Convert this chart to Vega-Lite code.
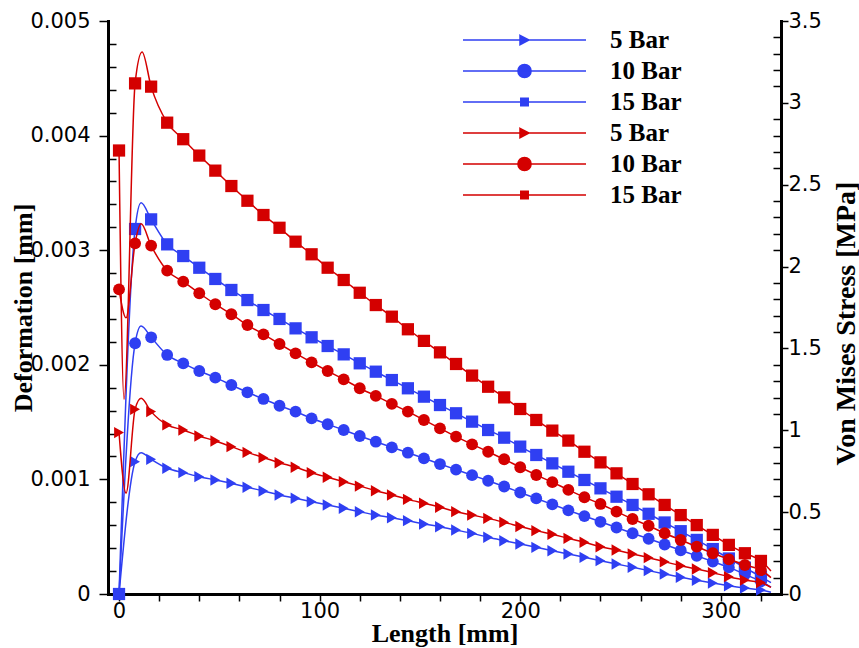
{
  "$schema": "https://vega.github.io/schema/vega-lite/v6.json",
  "width": 673,
  "height": 573,
  "autosize": {"type": "none"},
  "padding": {"left": 108, "top": 21, "right": 78, "bottom": 54},
  "background": "white",
  "config": {
    "view": {"stroke": null},
    "axis": {
      "domainColor": "black", "domainWidth": 3, "domainCap": "square",
      "tickColor": "black", "tickWidth": 1.5,
      "labelFont": "DejaVu Sans", "labelFontSize": 21, "labelColor": "black",
      "titleFont": "Liberation Serif", "titleFontWeight": "bold", "titleFontSize": 26, "titleColor": "black",
      "grid": false, "labelOverlap": false, "labelFlush": false, "labelBound": false
    }
  },
  "data": {"values": [
    {"q":"D","bar":"5 Bar","s":"D 5 Bar","x":0,"v":0,"m":1},
    {"q":"D","bar":"5 Bar","s":"D 5 Bar","x":8,"v":0.001155,"m":1},
    {"q":"D","bar":"5 Bar","s":"D 5 Bar","x":11,"v":0.001233,"m":0},
    {"q":"D","bar":"5 Bar","s":"D 5 Bar","x":16,"v":0.001175,"m":1},
    {"q":"D","bar":"5 Bar","s":"D 5 Bar","x":24,"v":0.001097,"m":1},
    {"q":"D","bar":"5 Bar","s":"D 5 Bar","x":32,"v":0.001059,"m":1},
    {"q":"D","bar":"5 Bar","s":"D 5 Bar","x":40,"v":0.001024,"m":1},
    {"q":"D","bar":"5 Bar","s":"D 5 Bar","x":48,"v":0.000995,"m":1},
    {"q":"D","bar":"5 Bar","s":"D 5 Bar","x":56,"v":0.000966,"m":1},
    {"q":"D","bar":"5 Bar","s":"D 5 Bar","x":64,"v":0.000931,"m":1},
    {"q":"D","bar":"5 Bar","s":"D 5 Bar","x":72,"v":0.000899,"m":1},
    {"q":"D","bar":"5 Bar","s":"D 5 Bar","x":80,"v":0.000864,"m":1},
    {"q":"D","bar":"5 Bar","s":"D 5 Bar","x":88,"v":0.000835,"m":1},
    {"q":"D","bar":"5 Bar","s":"D 5 Bar","x":96,"v":0.000805,"m":1},
    {"q":"D","bar":"5 Bar","s":"D 5 Bar","x":104,"v":0.000777,"m":1},
    {"q":"D","bar":"5 Bar","s":"D 5 Bar","x":112,"v":0.000748,"m":1},
    {"q":"D","bar":"5 Bar","s":"D 5 Bar","x":120,"v":0.000718,"m":1},
    {"q":"D","bar":"5 Bar","s":"D 5 Bar","x":128,"v":0.000689,"m":1},
    {"q":"D","bar":"5 Bar","s":"D 5 Bar","x":136,"v":0.000666,"m":1},
    {"q":"D","bar":"5 Bar","s":"D 5 Bar","x":144,"v":0.00064,"m":1},
    {"q":"D","bar":"5 Bar","s":"D 5 Bar","x":152,"v":0.000611,"m":1},
    {"q":"D","bar":"5 Bar","s":"D 5 Bar","x":160,"v":0.000587,"m":1},
    {"q":"D","bar":"5 Bar","s":"D 5 Bar","x":168,"v":0.000558,"m":1},
    {"q":"D","bar":"5 Bar","s":"D 5 Bar","x":176,"v":0.000529,"m":1},
    {"q":"D","bar":"5 Bar","s":"D 5 Bar","x":184,"v":0.000495,"m":1},
    {"q":"D","bar":"5 Bar","s":"D 5 Bar","x":192,"v":0.000465,"m":1},
    {"q":"D","bar":"5 Bar","s":"D 5 Bar","x":200,"v":0.000436,"m":1},
    {"q":"D","bar":"5 Bar","s":"D 5 Bar","x":208,"v":0.000407,"m":1},
    {"q":"D","bar":"5 Bar","s":"D 5 Bar","x":216,"v":0.000378,"m":1},
    {"q":"D","bar":"5 Bar","s":"D 5 Bar","x":224,"v":0.000349,"m":1},
    {"q":"D","bar":"5 Bar","s":"D 5 Bar","x":232,"v":0.00032,"m":1},
    {"q":"D","bar":"5 Bar","s":"D 5 Bar","x":240,"v":0.000291,"m":1},
    {"q":"D","bar":"5 Bar","s":"D 5 Bar","x":248,"v":0.000262,"m":1},
    {"q":"D","bar":"5 Bar","s":"D 5 Bar","x":256,"v":0.000233,"m":1},
    {"q":"D","bar":"5 Bar","s":"D 5 Bar","x":264,"v":0.000204,"m":1},
    {"q":"D","bar":"5 Bar","s":"D 5 Bar","x":272,"v":0.000175,"m":1},
    {"q":"D","bar":"5 Bar","s":"D 5 Bar","x":280,"v":0.000146,"m":1},
    {"q":"D","bar":"5 Bar","s":"D 5 Bar","x":288,"v":0.00012,"m":1},
    {"q":"D","bar":"5 Bar","s":"D 5 Bar","x":296,"v":0.000095,"m":1},
    {"q":"D","bar":"5 Bar","s":"D 5 Bar","x":304,"v":0.000072,"m":1},
    {"q":"D","bar":"5 Bar","s":"D 5 Bar","x":312,"v":0.000052,"m":1},
    {"q":"D","bar":"5 Bar","s":"D 5 Bar","x":320,"v":0.000035,"m":1},
    {"q":"D","bar":"5 Bar","s":"D 5 Bar","x":325,"v":0.000015,"m":0},

    {"q":"D","bar":"10 Bar","s":"D 10 Bar","x":0,"v":0,"m":1},
    {"q":"D","bar":"10 Bar","s":"D 10 Bar","x":8,"v":0.002188,"m":1},
    {"q":"D","bar":"10 Bar","s":"D 10 Bar","x":11,"v":0.002339,"m":0},
    {"q":"D","bar":"10 Bar","s":"D 10 Bar","x":16,"v":0.00224,"m":1},
    {"q":"D","bar":"10 Bar","s":"D 10 Bar","x":24,"v":0.002086,"m":1},
    {"q":"D","bar":"10 Bar","s":"D 10 Bar","x":32,"v":0.002013,"m":1},
    {"q":"D","bar":"10 Bar","s":"D 10 Bar","x":40,"v":0.001946,"m":1},
    {"q":"D","bar":"10 Bar","s":"D 10 Bar","x":48,"v":0.001888,"m":1},
    {"q":"D","bar":"10 Bar","s":"D 10 Bar","x":56,"v":0.001824,"m":1},
    {"q":"D","bar":"10 Bar","s":"D 10 Bar","x":64,"v":0.00176,"m":1},
    {"q":"D","bar":"10 Bar","s":"D 10 Bar","x":72,"v":0.001702,"m":1},
    {"q":"D","bar":"10 Bar","s":"D 10 Bar","x":80,"v":0.001643,"m":1},
    {"q":"D","bar":"10 Bar","s":"D 10 Bar","x":88,"v":0.001591,"m":1},
    {"q":"D","bar":"10 Bar","s":"D 10 Bar","x":96,"v":0.001533,"m":1},
    {"q":"D","bar":"10 Bar","s":"D 10 Bar","x":104,"v":0.001481,"m":1},
    {"q":"D","bar":"10 Bar","s":"D 10 Bar","x":112,"v":0.001431,"m":1},
    {"q":"D","bar":"10 Bar","s":"D 10 Bar","x":120,"v":0.001379,"m":1},
    {"q":"D","bar":"10 Bar","s":"D 10 Bar","x":128,"v":0.001329,"m":1},
    {"q":"D","bar":"10 Bar","s":"D 10 Bar","x":136,"v":0.00128,"m":1},
    {"q":"D","bar":"10 Bar","s":"D 10 Bar","x":144,"v":0.001233,"m":1},
    {"q":"D","bar":"10 Bar","s":"D 10 Bar","x":152,"v":0.001184,"m":1},
    {"q":"D","bar":"10 Bar","s":"D 10 Bar","x":160,"v":0.001134,"m":1},
    {"q":"D","bar":"10 Bar","s":"D 10 Bar","x":168,"v":0.001085,"m":1},
    {"q":"D","bar":"10 Bar","s":"D 10 Bar","x":176,"v":0.001037,"m":1},
    {"q":"D","bar":"10 Bar","s":"D 10 Bar","x":184,"v":0.000988,"m":1},
    {"q":"D","bar":"10 Bar","s":"D 10 Bar","x":192,"v":0.000938,"m":1},
    {"q":"D","bar":"10 Bar","s":"D 10 Bar","x":200,"v":0.000886,"m":1},
    {"q":"D","bar":"10 Bar","s":"D 10 Bar","x":208,"v":0.000834,"m":1},
    {"q":"D","bar":"10 Bar","s":"D 10 Bar","x":216,"v":0.000782,"m":1},
    {"q":"D","bar":"10 Bar","s":"D 10 Bar","x":224,"v":0.00073,"m":1},
    {"q":"D","bar":"10 Bar","s":"D 10 Bar","x":232,"v":0.00068,"m":1},
    {"q":"D","bar":"10 Bar","s":"D 10 Bar","x":240,"v":0.00063,"m":1},
    {"q":"D","bar":"10 Bar","s":"D 10 Bar","x":248,"v":0.00058,"m":1},
    {"q":"D","bar":"10 Bar","s":"D 10 Bar","x":256,"v":0.00053,"m":1},
    {"q":"D","bar":"10 Bar","s":"D 10 Bar","x":264,"v":0.000482,"m":1},
    {"q":"D","bar":"10 Bar","s":"D 10 Bar","x":272,"v":0.000432,"m":1},
    {"q":"D","bar":"10 Bar","s":"D 10 Bar","x":280,"v":0.000382,"m":1},
    {"q":"D","bar":"10 Bar","s":"D 10 Bar","x":288,"v":0.000333,"m":1},
    {"q":"D","bar":"10 Bar","s":"D 10 Bar","x":296,"v":0.000283,"m":1},
    {"q":"D","bar":"10 Bar","s":"D 10 Bar","x":304,"v":0.000232,"m":1},
    {"q":"D","bar":"10 Bar","s":"D 10 Bar","x":312,"v":0.000172,"m":1},
    {"q":"D","bar":"10 Bar","s":"D 10 Bar","x":320,"v":0.00011,"m":1},
    {"q":"D","bar":"10 Bar","s":"D 10 Bar","x":325,"v":0.00006,"m":0},

    {"q":"D","bar":"15 Bar","s":"D 15 Bar","x":0,"v":0,"m":1},
    {"q":"D","bar":"15 Bar","s":"D 15 Bar","x":8,"v":0.003185,"m":1},
    {"q":"D","bar":"15 Bar","s":"D 15 Bar","x":11,"v":0.003415,"m":0},
    {"q":"D","bar":"15 Bar","s":"D 15 Bar","x":16,"v":0.003269,"m":1},
    {"q":"D","bar":"15 Bar","s":"D 15 Bar","x":24,"v":0.003051,"m":1},
    {"q":"D","bar":"15 Bar","s":"D 15 Bar","x":32,"v":0.002949,"m":1},
    {"q":"D","bar":"15 Bar","s":"D 15 Bar","x":40,"v":0.002847,"m":1},
    {"q":"D","bar":"15 Bar","s":"D 15 Bar","x":48,"v":0.002749,"m":1},
    {"q":"D","bar":"15 Bar","s":"D 15 Bar","x":56,"v":0.002653,"m":1},
    {"q":"D","bar":"15 Bar","s":"D 15 Bar","x":64,"v":0.002565,"m":1},
    {"q":"D","bar":"15 Bar","s":"D 15 Bar","x":72,"v":0.002478,"m":1},
    {"q":"D","bar":"15 Bar","s":"D 15 Bar","x":80,"v":0.0024,"m":1},
    {"q":"D","bar":"15 Bar","s":"D 15 Bar","x":88,"v":0.002318,"m":1},
    {"q":"D","bar":"15 Bar","s":"D 15 Bar","x":96,"v":0.00224,"m":1},
    {"q":"D","bar":"15 Bar","s":"D 15 Bar","x":104,"v":0.002164,"m":1},
    {"q":"D","bar":"15 Bar","s":"D 15 Bar","x":112,"v":0.002091,"m":1},
    {"q":"D","bar":"15 Bar","s":"D 15 Bar","x":120,"v":0.002013,"m":1},
    {"q":"D","bar":"15 Bar","s":"D 15 Bar","x":128,"v":0.00194,"m":1},
    {"q":"D","bar":"15 Bar","s":"D 15 Bar","x":136,"v":0.001867,"m":1},
    {"q":"D","bar":"15 Bar","s":"D 15 Bar","x":144,"v":0.001795,"m":1},
    {"q":"D","bar":"15 Bar","s":"D 15 Bar","x":152,"v":0.001722,"m":1},
    {"q":"D","bar":"15 Bar","s":"D 15 Bar","x":160,"v":0.001649,"m":1},
    {"q":"D","bar":"15 Bar","s":"D 15 Bar","x":168,"v":0.001577,"m":1},
    {"q":"D","bar":"15 Bar","s":"D 15 Bar","x":176,"v":0.001504,"m":1},
    {"q":"D","bar":"15 Bar","s":"D 15 Bar","x":184,"v":0.001431,"m":1},
    {"q":"D","bar":"15 Bar","s":"D 15 Bar","x":192,"v":0.001364,"m":1},
    {"q":"D","bar":"15 Bar","s":"D 15 Bar","x":200,"v":0.001286,"m":1},
    {"q":"D","bar":"15 Bar","s":"D 15 Bar","x":208,"v":0.001213,"m":1},
    {"q":"D","bar":"15 Bar","s":"D 15 Bar","x":216,"v":0.00114,"m":1},
    {"q":"D","bar":"15 Bar","s":"D 15 Bar","x":224,"v":0.001067,"m":1},
    {"q":"D","bar":"15 Bar","s":"D 15 Bar","x":232,"v":0.000995,"m":1},
    {"q":"D","bar":"15 Bar","s":"D 15 Bar","x":240,"v":0.000922,"m":1},
    {"q":"D","bar":"15 Bar","s":"D 15 Bar","x":248,"v":0.000849,"m":1},
    {"q":"D","bar":"15 Bar","s":"D 15 Bar","x":256,"v":0.000777,"m":1},
    {"q":"D","bar":"15 Bar","s":"D 15 Bar","x":264,"v":0.0007,"m":1},
    {"q":"D","bar":"15 Bar","s":"D 15 Bar","x":272,"v":0.000624,"m":1},
    {"q":"D","bar":"15 Bar","s":"D 15 Bar","x":280,"v":0.000548,"m":1},
    {"q":"D","bar":"15 Bar","s":"D 15 Bar","x":288,"v":0.000472,"m":1},
    {"q":"D","bar":"15 Bar","s":"D 15 Bar","x":296,"v":0.000392,"m":1},
    {"q":"D","bar":"15 Bar","s":"D 15 Bar","x":304,"v":0.00031,"m":1},
    {"q":"D","bar":"15 Bar","s":"D 15 Bar","x":312,"v":0.00023,"m":1},
    {"q":"D","bar":"15 Bar","s":"D 15 Bar","x":320,"v":0.00015,"m":1},
    {"q":"D","bar":"15 Bar","s":"D 15 Bar","x":325,"v":0.0001,"m":0},

    {"q":"S","bar":"5 Bar","s":"S 5 Bar","x":0,"v":0.986,"m":1},
    {"q":"S","bar":"5 Bar","s":"S 5 Bar","x":3.5,"v":0.616,"m":0},
    {"q":"S","bar":"5 Bar","s":"S 5 Bar","x":8,"v":1.128,"m":1},
    {"q":"S","bar":"5 Bar","s":"S 5 Bar","x":11,"v":1.195,"m":0},
    {"q":"S","bar":"5 Bar","s":"S 5 Bar","x":16,"v":1.114,"m":1},
    {"q":"S","bar":"5 Bar","s":"S 5 Bar","x":24,"v":1.033,"m":1},
    {"q":"S","bar":"5 Bar","s":"S 5 Bar","x":32,"v":1.002,"m":1},
    {"q":"S","bar":"5 Bar","s":"S 5 Bar","x":40,"v":0.965,"m":1},
    {"q":"S","bar":"5 Bar","s":"S 5 Bar","x":48,"v":0.935,"m":1},
    {"q":"S","bar":"5 Bar","s":"S 5 Bar","x":56,"v":0.9,"m":1},
    {"q":"S","bar":"5 Bar","s":"S 5 Bar","x":64,"v":0.865,"m":1},
    {"q":"S","bar":"5 Bar","s":"S 5 Bar","x":72,"v":0.833,"m":1},
    {"q":"S","bar":"5 Bar","s":"S 5 Bar","x":80,"v":0.802,"m":1},
    {"q":"S","bar":"5 Bar","s":"S 5 Bar","x":88,"v":0.774,"m":1},
    {"q":"S","bar":"5 Bar","s":"S 5 Bar","x":96,"v":0.741,"m":1},
    {"q":"S","bar":"5 Bar","s":"S 5 Bar","x":104,"v":0.713,"m":1},
    {"q":"S","bar":"5 Bar","s":"S 5 Bar","x":112,"v":0.686,"m":1},
    {"q":"S","bar":"5 Bar","s":"S 5 Bar","x":120,"v":0.659,"m":1},
    {"q":"S","bar":"5 Bar","s":"S 5 Bar","x":128,"v":0.631,"m":1},
    {"q":"S","bar":"5 Bar","s":"S 5 Bar","x":136,"v":0.605,"m":1},
    {"q":"S","bar":"5 Bar","s":"S 5 Bar","x":144,"v":0.578,"m":1},
    {"q":"S","bar":"5 Bar","s":"S 5 Bar","x":152,"v":0.554,"m":1},
    {"q":"S","bar":"5 Bar","s":"S 5 Bar","x":160,"v":0.53,"m":1},
    {"q":"S","bar":"5 Bar","s":"S 5 Bar","x":168,"v":0.503,"m":1},
    {"q":"S","bar":"5 Bar","s":"S 5 Bar","x":176,"v":0.482,"m":1},
    {"q":"S","bar":"5 Bar","s":"S 5 Bar","x":184,"v":0.462,"m":1},
    {"q":"S","bar":"5 Bar","s":"S 5 Bar","x":192,"v":0.438,"m":1},
    {"q":"S","bar":"5 Bar","s":"S 5 Bar","x":200,"v":0.412,"m":1},
    {"q":"S","bar":"5 Bar","s":"S 5 Bar","x":208,"v":0.387,"m":1},
    {"q":"S","bar":"5 Bar","s":"S 5 Bar","x":216,"v":0.365,"m":1},
    {"q":"S","bar":"5 Bar","s":"S 5 Bar","x":224,"v":0.34,"m":1},
    {"q":"S","bar":"5 Bar","s":"S 5 Bar","x":232,"v":0.316,"m":1},
    {"q":"S","bar":"5 Bar","s":"S 5 Bar","x":240,"v":0.289,"m":1},
    {"q":"S","bar":"5 Bar","s":"S 5 Bar","x":248,"v":0.269,"m":1},
    {"q":"S","bar":"5 Bar","s":"S 5 Bar","x":256,"v":0.244,"m":1},
    {"q":"S","bar":"5 Bar","s":"S 5 Bar","x":264,"v":0.222,"m":1},
    {"q":"S","bar":"5 Bar","s":"S 5 Bar","x":272,"v":0.197,"m":1},
    {"q":"S","bar":"5 Bar","s":"S 5 Bar","x":280,"v":0.173,"m":1},
    {"q":"S","bar":"5 Bar","s":"S 5 Bar","x":288,"v":0.153,"m":1},
    {"q":"S","bar":"5 Bar","s":"S 5 Bar","x":296,"v":0.13,"m":1},
    {"q":"S","bar":"5 Bar","s":"S 5 Bar","x":304,"v":0.106,"m":1},
    {"q":"S","bar":"5 Bar","s":"S 5 Bar","x":312,"v":0.085,"m":1},
    {"q":"S","bar":"5 Bar","s":"S 5 Bar","x":320,"v":0.07,"m":1},
    {"q":"S","bar":"5 Bar","s":"S 5 Bar","x":325,"v":0.04,"m":0},

    {"q":"S","bar":"10 Bar","s":"S 10 Bar","x":0,"v":1.861,"m":1},
    {"q":"S","bar":"10 Bar","s":"S 10 Bar","x":3.5,"v":1.687,"m":0},
    {"q":"S","bar":"10 Bar","s":"S 10 Bar","x":8,"v":2.142,"m":1},
    {"q":"S","bar":"10 Bar","s":"S 10 Bar","x":11,"v":2.261,"m":0},
    {"q":"S","bar":"10 Bar","s":"S 10 Bar","x":16,"v":2.128,"m":1},
    {"q":"S","bar":"10 Bar","s":"S 10 Bar","x":24,"v":1.975,"m":1},
    {"q":"S","bar":"10 Bar","s":"S 10 Bar","x":32,"v":1.908,"m":1},
    {"q":"S","bar":"10 Bar","s":"S 10 Bar","x":40,"v":1.837,"m":1},
    {"q":"S","bar":"10 Bar","s":"S 10 Bar","x":48,"v":1.77,"m":1},
    {"q":"S","bar":"10 Bar","s":"S 10 Bar","x":56,"v":1.709,"m":1},
    {"q":"S","bar":"10 Bar","s":"S 10 Bar","x":64,"v":1.643,"m":1},
    {"q":"S","bar":"10 Bar","s":"S 10 Bar","x":72,"v":1.586,"m":1},
    {"q":"S","bar":"10 Bar","s":"S 10 Bar","x":80,"v":1.527,"m":1},
    {"q":"S","bar":"10 Bar","s":"S 10 Bar","x":88,"v":1.47,"m":1},
    {"q":"S","bar":"10 Bar","s":"S 10 Bar","x":96,"v":1.415,"m":1},
    {"q":"S","bar":"10 Bar","s":"S 10 Bar","x":104,"v":1.362,"m":1},
    {"q":"S","bar":"10 Bar","s":"S 10 Bar","x":112,"v":1.311,"m":1},
    {"q":"S","bar":"10 Bar","s":"S 10 Bar","x":120,"v":1.257,"m":1},
    {"q":"S","bar":"10 Bar","s":"S 10 Bar","x":128,"v":1.21,"m":1},
    {"q":"S","bar":"10 Bar","s":"S 10 Bar","x":136,"v":1.161,"m":1},
    {"q":"S","bar":"10 Bar","s":"S 10 Bar","x":144,"v":1.114,"m":1},
    {"q":"S","bar":"10 Bar","s":"S 10 Bar","x":152,"v":1.063,"m":1},
    {"q":"S","bar":"10 Bar","s":"S 10 Bar","x":160,"v":1.012,"m":1},
    {"q":"S","bar":"10 Bar","s":"S 10 Bar","x":168,"v":0.961,"m":1},
    {"q":"S","bar":"10 Bar","s":"S 10 Bar","x":176,"v":0.914,"m":1},
    {"q":"S","bar":"10 Bar","s":"S 10 Bar","x":184,"v":0.869,"m":1},
    {"q":"S","bar":"10 Bar","s":"S 10 Bar","x":192,"v":0.823,"m":1},
    {"q":"S","bar":"10 Bar","s":"S 10 Bar","x":200,"v":0.774,"m":1},
    {"q":"S","bar":"10 Bar","s":"S 10 Bar","x":208,"v":0.727,"m":1},
    {"q":"S","bar":"10 Bar","s":"S 10 Bar","x":216,"v":0.683,"m":1},
    {"q":"S","bar":"10 Bar","s":"S 10 Bar","x":224,"v":0.636,"m":1},
    {"q":"S","bar":"10 Bar","s":"S 10 Bar","x":232,"v":0.591,"m":1},
    {"q":"S","bar":"10 Bar","s":"S 10 Bar","x":240,"v":0.55,"m":1},
    {"q":"S","bar":"10 Bar","s":"S 10 Bar","x":248,"v":0.503,"m":1},
    {"q":"S","bar":"10 Bar","s":"S 10 Bar","x":256,"v":0.458,"m":1},
    {"q":"S","bar":"10 Bar","s":"S 10 Bar","x":264,"v":0.417,"m":1},
    {"q":"S","bar":"10 Bar","s":"S 10 Bar","x":272,"v":0.371,"m":1},
    {"q":"S","bar":"10 Bar","s":"S 10 Bar","x":280,"v":0.33,"m":1},
    {"q":"S","bar":"10 Bar","s":"S 10 Bar","x":288,"v":0.289,"m":1},
    {"q":"S","bar":"10 Bar","s":"S 10 Bar","x":296,"v":0.249,"m":1},
    {"q":"S","bar":"10 Bar","s":"S 10 Bar","x":304,"v":0.212,"m":1},
    {"q":"S","bar":"10 Bar","s":"S 10 Bar","x":312,"v":0.177,"m":1},
    {"q":"S","bar":"10 Bar","s":"S 10 Bar","x":320,"v":0.146,"m":1},
    {"q":"S","bar":"10 Bar","s":"S 10 Bar","x":325,"v":0.1,"m":0},

    {"q":"S","bar":"15 Bar","s":"S 15 Bar","x":0,"v":2.709,"m":1},
    {"q":"S","bar":"15 Bar","s":"S 15 Bar","x":2.5,"v":1.19,"m":0},
    {"q":"S","bar":"15 Bar","s":"S 15 Bar","x":8,"v":3.119,"m":1},
    {"q":"S","bar":"15 Bar","s":"S 15 Bar","x":11.5,"v":3.311,"m":0},
    {"q":"S","bar":"15 Bar","s":"S 15 Bar","x":16,"v":3.099,"m":1},
    {"q":"S","bar":"15 Bar","s":"S 15 Bar","x":24,"v":2.879,"m":1},
    {"q":"S","bar":"15 Bar","s":"S 15 Bar","x":32,"v":2.778,"m":1},
    {"q":"S","bar":"15 Bar","s":"S 15 Bar","x":40,"v":2.678,"m":1},
    {"q":"S","bar":"15 Bar","s":"S 15 Bar","x":48,"v":2.586,"m":1},
    {"q":"S","bar":"15 Bar","s":"S 15 Bar","x":56,"v":2.492,"m":1},
    {"q":"S","bar":"15 Bar","s":"S 15 Bar","x":64,"v":2.402,"m":1},
    {"q":"S","bar":"15 Bar","s":"S 15 Bar","x":72,"v":2.315,"m":1},
    {"q":"S","bar":"15 Bar","s":"S 15 Bar","x":80,"v":2.237,"m":1},
    {"q":"S","bar":"15 Bar","s":"S 15 Bar","x":88,"v":2.152,"m":1},
    {"q":"S","bar":"15 Bar","s":"S 15 Bar","x":96,"v":2.075,"m":1},
    {"q":"S","bar":"15 Bar","s":"S 15 Bar","x":104,"v":1.993,"m":1},
    {"q":"S","bar":"15 Bar","s":"S 15 Bar","x":112,"v":1.918,"m":1},
    {"q":"S","bar":"15 Bar","s":"S 15 Bar","x":120,"v":1.84,"m":1},
    {"q":"S","bar":"15 Bar","s":"S 15 Bar","x":128,"v":1.765,"m":1},
    {"q":"S","bar":"15 Bar","s":"S 15 Bar","x":136,"v":1.694,"m":1},
    {"q":"S","bar":"15 Bar","s":"S 15 Bar","x":144,"v":1.617,"m":1},
    {"q":"S","bar":"15 Bar","s":"S 15 Bar","x":152,"v":1.546,"m":1},
    {"q":"S","bar":"15 Bar","s":"S 15 Bar","x":160,"v":1.476,"m":1},
    {"q":"S","bar":"15 Bar","s":"S 15 Bar","x":168,"v":1.405,"m":1},
    {"q":"S","bar":"15 Bar","s":"S 15 Bar","x":176,"v":1.334,"m":1},
    {"q":"S","bar":"15 Bar","s":"S 15 Bar","x":184,"v":1.266,"m":1},
    {"q":"S","bar":"15 Bar","s":"S 15 Bar","x":192,"v":1.201,"m":1},
    {"q":"S","bar":"15 Bar","s":"S 15 Bar","x":200,"v":1.13,"m":1},
    {"q":"S","bar":"15 Bar","s":"S 15 Bar","x":208,"v":1.063,"m":1},
    {"q":"S","bar":"15 Bar","s":"S 15 Bar","x":216,"v":0.998,"m":1},
    {"q":"S","bar":"15 Bar","s":"S 15 Bar","x":224,"v":0.937,"m":1},
    {"q":"S","bar":"15 Bar","s":"S 15 Bar","x":232,"v":0.869,"m":1},
    {"q":"S","bar":"15 Bar","s":"S 15 Bar","x":240,"v":0.804,"m":1},
    {"q":"S","bar":"15 Bar","s":"S 15 Bar","x":248,"v":0.737,"m":1},
    {"q":"S","bar":"15 Bar","s":"S 15 Bar","x":256,"v":0.672,"m":1},
    {"q":"S","bar":"15 Bar","s":"S 15 Bar","x":264,"v":0.609,"m":1},
    {"q":"S","bar":"15 Bar","s":"S 15 Bar","x":272,"v":0.544,"m":1},
    {"q":"S","bar":"15 Bar","s":"S 15 Bar","x":280,"v":0.482,"m":1},
    {"q":"S","bar":"15 Bar","s":"S 15 Bar","x":288,"v":0.421,"m":1},
    {"q":"S","bar":"15 Bar","s":"S 15 Bar","x":296,"v":0.361,"m":1},
    {"q":"S","bar":"15 Bar","s":"S 15 Bar","x":304,"v":0.3,"m":1},
    {"q":"S","bar":"15 Bar","s":"S 15 Bar","x":312,"v":0.249,"m":1},
    {"q":"S","bar":"15 Bar","s":"S 15 Bar","x":320,"v":0.202,"m":1},
    {"q":"S","bar":"15 Bar","s":"S 15 Bar","x":325,"v":0.14,"m":0}
  ]},
  "encoding": {
    "x": {
      "field": "x", "type": "quantitative",
      "scale": {"domain": [-5.5, 330], "nice": false, "zero": false},
      "axis": {
        "title": "Length [mm]",
        "values": [0,20,40,60,80,100,120,140,160,180,200,220,240,260,280,300,320],
        "format": "d",
        "labelExpr": "datum.value % 100 == 0 ? datum.label : ''",
        "tickSize": 7,
        "labelPadding": -1,
        "titlePadding": -1
      }
    },
    "color": {
      "field": "s", "type": "nominal",
      "scale": {
        "domain": ["D 5 Bar","D 10 Bar","D 15 Bar","S 5 Bar","S 10 Bar","S 15 Bar"],
        "range": ["#2f3ff2","#2f3ff2","#2f3ff2","#d40000","#d40000","#d40000"]
      },
      "legend": {
        "orient": "none", "legendX": 403.5, "legendY": 6,
        "title": null, "padding": 0, "rowPadding": 5,
        "symbolSize": 576, "symbolStrokeWidth": 1.5,
        "labelFont": "Liberation Serif", "labelFontWeight": "bold", "labelFontSize": 25, "labelColor": "black",
        "labelOffset": 72.5,
        "labelExpr": "slice(datum.label, 2)",
        "encode": {
          "symbols": {
            "update": {
              "shape": {"signal": "indexof(datum.value, ' 5 ') >= 0 ? 'M-5.125,0L5.125,0M-0.375,-0.39L0.375,0L-0.375,0.39Z' : (indexof(datum.value, ' 10 ') >= 0 ? 'M-5.125,0L5.125,0M-0.55,0A0.55,0.55,0,1,0,0.55,0A0.55,0.55,0,1,0,-0.55,0Z' : 'M-5.125,0L5.125,0M-0.31,-0.31L0.31,-0.31L0.31,0.31L-0.31,0.31Z')"},
              "fill": {"scale": "color", "field": "value"},
              "stroke": {"scale": "color", "field": "value"},
              "strokeWidth": {"value": 1.5},
              "opacity": {"value": 1},
              "fillOpacity": {"value": 1}
            }
          }
        }
      }
    }
  },
  "layer": [
    {
      "transform": [{"filter": "datum.q == 'D'"}],
      "encoding": {
        "y": {
          "field": "v", "type": "quantitative",
          "scale": {"domain": [0, 0.005], "nice": false},
          "axis": {
            "orient": "left",
            "title": "Deformation [mm]",
            "values": [0,0.0002,0.0004,0.0006,0.0008,0.001,0.0012,0.0014,0.0016,0.0018,0.002,0.0022,0.0024,0.0026,0.0028,0.003,0.0032,0.0034,0.0036,0.0038,0.004,0.0042,0.0044,0.0046,0.0048,0.005],
            "format": ".3~f",
            "labelExpr": "round(datum.value * 10000) % 10 == 0 ? datum.label : ''",
            "tickSize": {"condition": {"test": "round(datum.value * 10000) % 10 == 0", "value": 9}, "value": -8},
            "labelPadding": 9,
            "titleBaseline": "middle",
            "titleX": -85
          }
        }
      },
      "layer": [
        {"mark": {"type": "line", "strokeWidth": 1.5, "interpolate": "monotone"}},
        {
          "transform": [{"filter": "datum.m == 1"}],
          "mark": {"type": "point", "filled": true, "opacity": 1, "strokeWidth": 0},
          "encoding": {
            "shape": {"field": "bar", "type": "nominal", "scale": {"domain": ["5 Bar","10 Bar","15 Bar"], "range": ["triangle-right","circle","square"]}, "legend": null},
            "size": {"field": "bar", "type": "ordinal", "scale": {"domain": ["5 Bar","10 Bar","15 Bar"], "range": [130, 150, 70]}, "legend": null}
          }
        }
      ]
    },
    {
      "transform": [{"filter": "datum.q == 'S'"}],
      "encoding": {
        "y": {
          "field": "v", "type": "quantitative",
          "scale": {"domain": [0, 3.5], "nice": false},
          "axis": {
            "orient": "right",
            "title": "Von Mises Stress [MPa]",
            "titleAngle": 270,
            "titleFontSize": 28,
            "titleBaseline": "middle",
            "titleX": 65,
            "titleY": 302,
            "values": [0,0.1,0.2,0.3,0.4,0.5,0.6,0.7,0.8,0.9,1,1.1,1.2,1.3,1.4,1.5,1.6,1.7,1.8,1.9,2,2.1,2.2,2.3,2.4,2.5,2.6,2.7,2.8,2.9,3,3.1,3.2,3.3,3.4,3.5],
            "format": ".1~f",
            "labelExpr": "round(datum.value * 10) % 5 == 0 ? datum.label : ''",
            "tickSize": {"condition": {"test": "round(datum.value * 10) % 5 == 0", "value": 7}, "value": -8},
            "labelPadding": 0
          }
        }
      },
      "layer": [
        {"mark": {"type": "line", "strokeWidth": 1.5, "interpolate": "monotone"}},
        {
          "transform": [{"filter": "datum.m == 1"}],
          "mark": {"type": "point", "filled": true, "opacity": 1, "strokeWidth": 0},
          "encoding": {
            "shape": {"field": "bar", "type": "nominal", "scale": {"domain": ["5 Bar","10 Bar","15 Bar"], "range": ["triangle-right","circle","square"]}, "legend": null},
            "size": {"field": "bar", "type": "ordinal", "scale": {"domain": ["5 Bar","10 Bar","15 Bar"], "range": [130, 150, 70]}, "legend": null}
          }
        }
      ]
    }
  ],
  "resolve": {"scale": {"y": "independent"}}
}
